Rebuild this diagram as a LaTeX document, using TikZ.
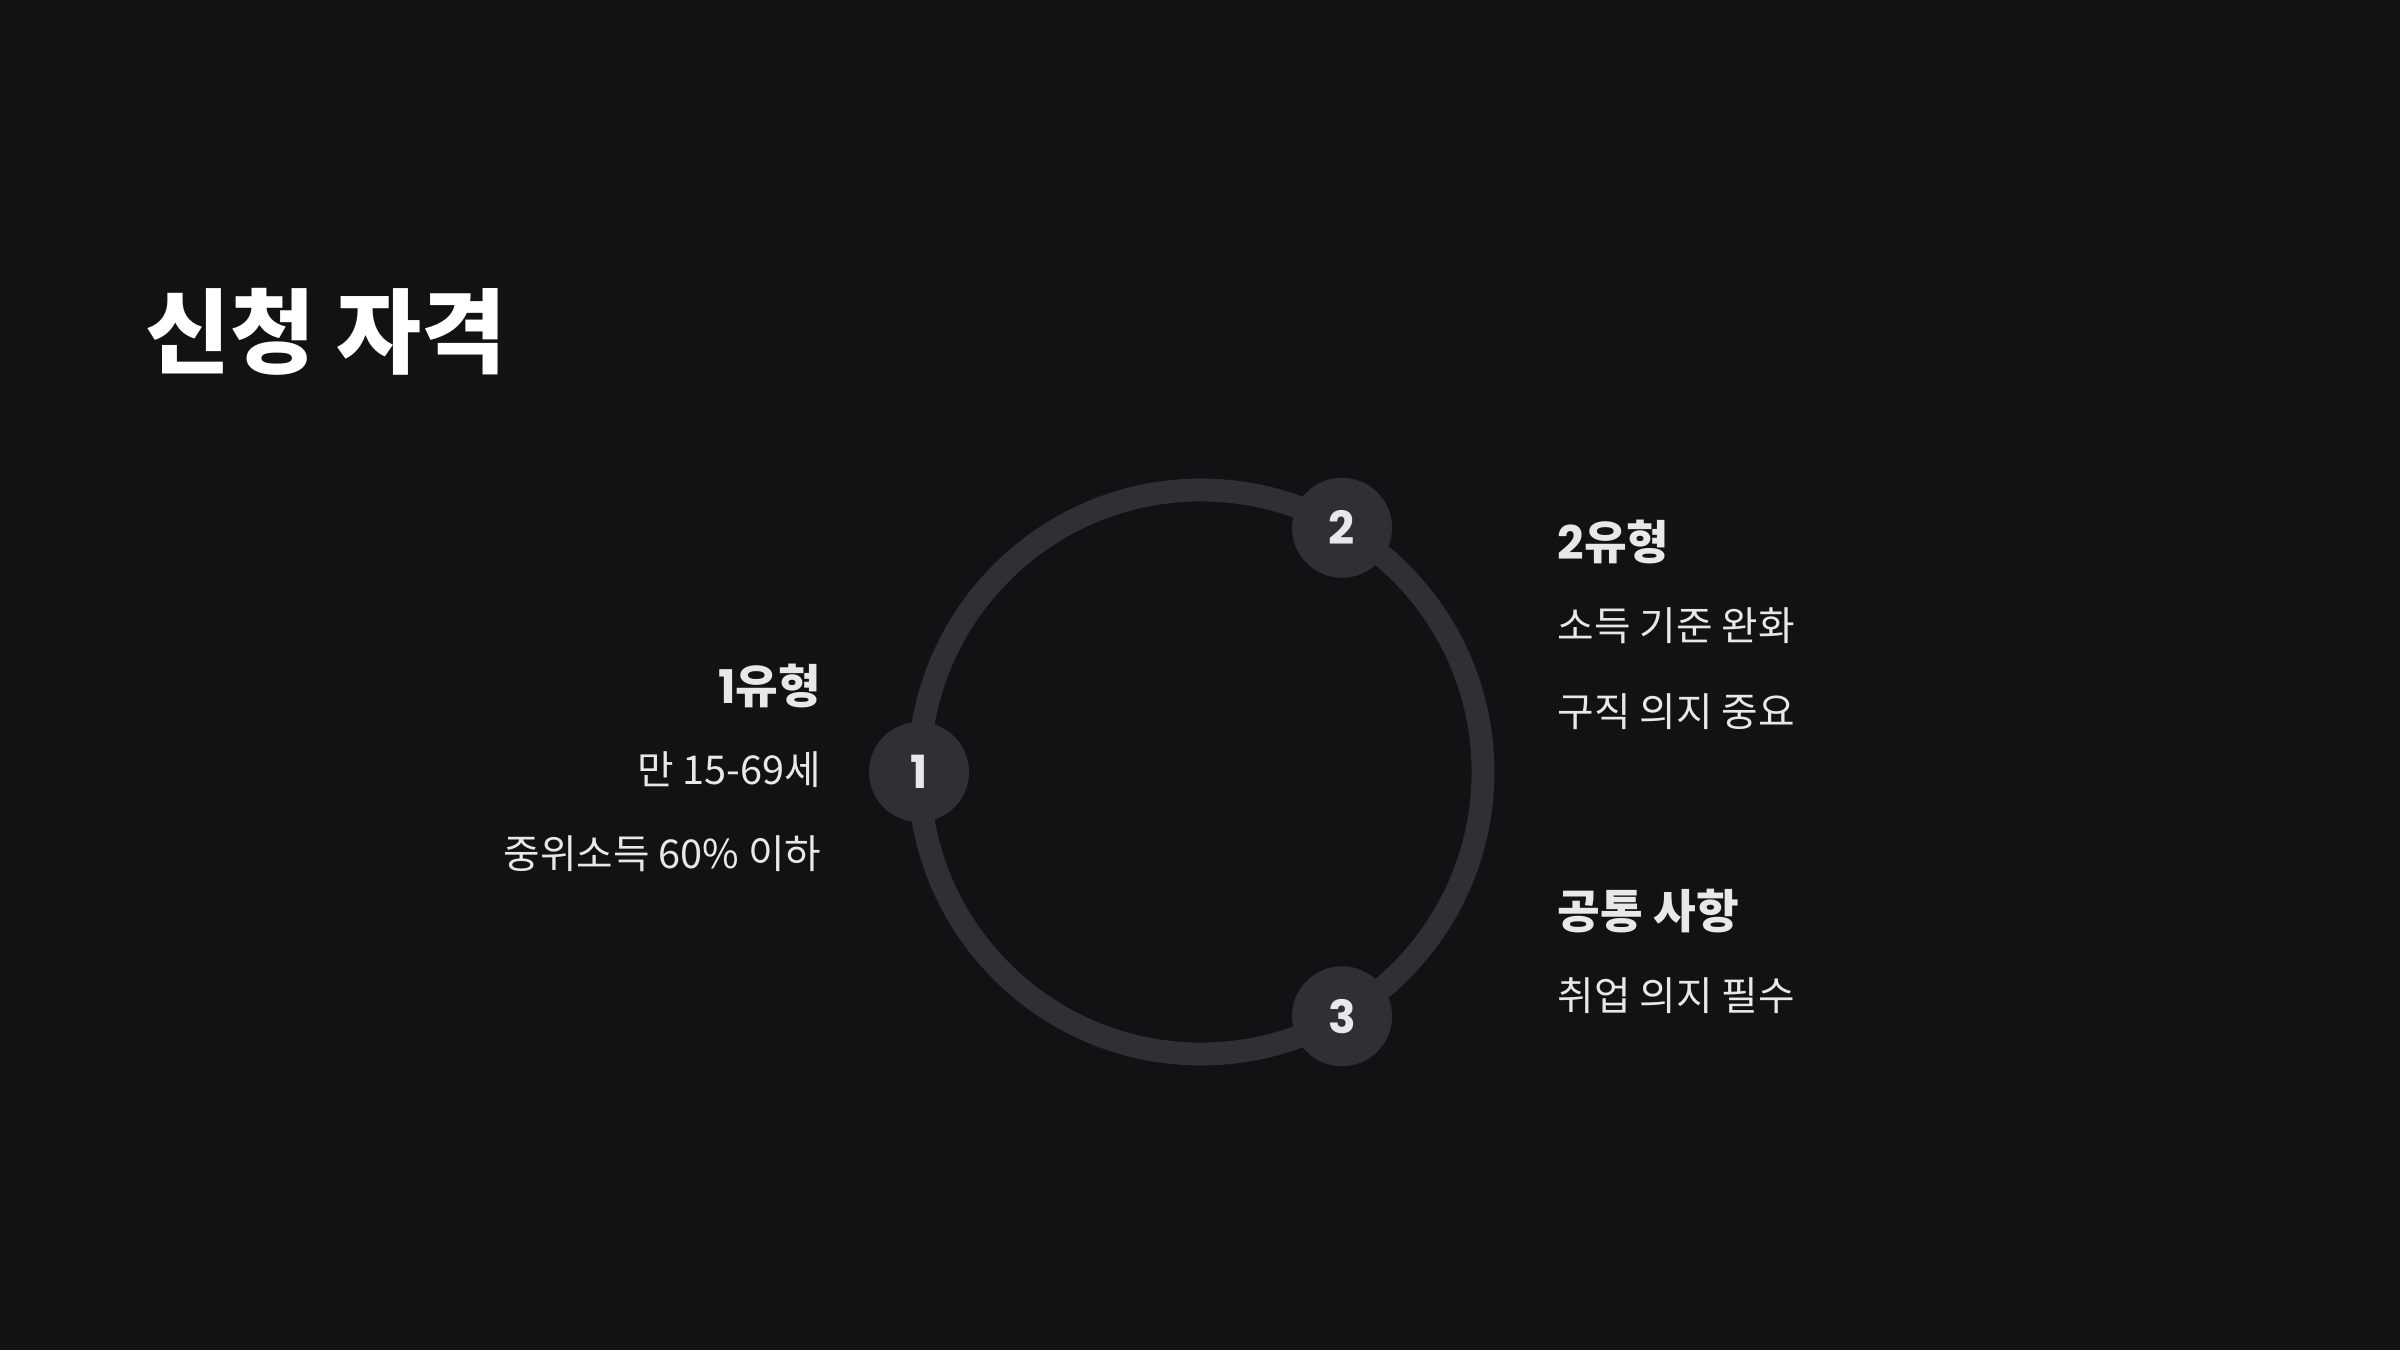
\documentclass[tikz,border=0pt]{standalone}
\usepackage{fontspec}
\setmainfont{Noto Sans CJK KR}
\newfontfamily\numfont{Poppins}
\usetikzlibrary{calc}
\definecolor{bgdark}{HTML}{111214}
\definecolor{ringgray}{HTML}{2F3033}
\definecolor{softwhite}{HTML}{E8E8EA}
\tikzset{
  ring/.style={draw=ringgray, line width=6.5pt},
  stepdot/.style={circle, fill=ringgray, minimum size=1cm, inner sep=0pt, text=softwhite, font=\numfont\bfseries\fontsize{13}{15}\selectfont},
  headtxt/.style={text=softwhite, font=\bfseries\fontsize{13.2}{15}\selectfont, inner sep=0pt},
  bodytxt/.style={text=softwhite, font=\fontsize{11.3}{13}\selectfont, inner sep=0pt}
}
\begin{document}
\begin{tikzpicture}
			%%%%% START %%%%%
			
			\fill[bgdark] (0, 0) rectangle (24, 13.5);
			\useasboundingbox (0, 0) rectangle (24, 13.5);
			
			\node[anchor=west, text=white, inner sep=0pt, font=\bfseries\fontsize{26.3}{30}\selectfont] (title) at (1.45, 10.18) {신청 자격};
			
			\coordinate (ctr) at (12.01, 5.78);
			\draw[ring] (ctr) circle (2.82);
			
			\node[stepdot] (s1) at ($(ctr)+(180:2.82)$) {1};
			\node[stepdot] (s2) at ($(ctr)+(60:2.82)$) {2};
			\node[stepdot] (s3) at ($(ctr)+(-60:2.82)$) {3};
			
			\node[headtxt, anchor=east] (h1) at (8.22, 6.64) {{\numfont 1}유형};
			\node[bodytxt, anchor=east] (b1a) at (8.22, 5.80) {만 15-69세};
			\node[bodytxt, anchor=east] (b1b) at (8.22, 4.96) {중위소득 60\% 이하};
			
			\node[headtxt, anchor=west] (h2) at (15.57, 8.08) {{\numfont 2}유형};
			\node[bodytxt, anchor=west] (b2a) at (15.57, 7.24) {소득 기준 완화};
			\node[bodytxt, anchor=west] (b2b) at (15.57, 6.38) {구직 의지 중요};
			
			\node[headtxt, anchor=west] (h3) at (15.57, 4.39) {공통 사항};
			\node[bodytxt, anchor=west] (b3a) at (15.57, 3.54) {취업 의지 필수};
			
			%%%%% END %%%%%
\end{tikzpicture}
\end{document}
